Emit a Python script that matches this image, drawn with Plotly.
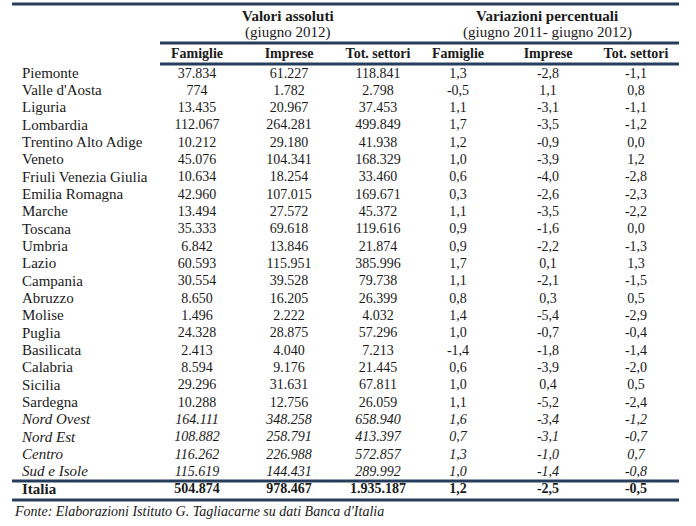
import plotly.graph_objects as go

#-------------------------------------------------------------------------------
# Dati della tabella (valori assoluti giugno 2012 e variazioni % 2011-2012)
regioni = ["Piemonte", "Valle d'Aosta", "Liguria", "Lombardia",
           "Trentino Alto Adige", "Veneto", "Friuli Venezia Giulia",
           "Emilia Romagna", "Marche", "Toscana", "Umbria", "Lazio",
           "Campania", "Abruzzo", "Molise", "Puglia", "Basilicata",
           "Calabria", "Sicilia", "Sardegna",
           "Nord Ovest", "Nord Est", "Centro", "Sud e Isole", "Italia"]

famiglie = [37834, 774, 13435, 112067, 10212, 45076, 10634, 42960, 13494,
            35333, 6842, 60593, 30554, 8650, 1496, 24328, 2413, 8594, 29296,
            10288, 164111, 108882, 116262, 115619, 504874]
imprese = [61227, 1782, 20967, 264281, 29180, 104341, 18254, 107015, 27572,
           69618, 13846, 115951, 39528, 16205, 2222, 28875, 4040, 9176, 31631,
           12756, 348258, 258791, 226988, 144431, 978467]
tot_settori = [118841, 2798, 37453, 499849, 41938, 168329, 33460, 169671,
               45372, 119616, 21874, 385996, 79738, 26399, 4032, 57296, 7213,
               21445, 67811, 26059, 658940, 413397, 572857, 289992, 1935187]

var_famiglie = [1.3, -0.5, 1.1, 1.7, 1.2, 1.0, 0.6, 0.3, 1.1, 0.9, 0.9, 1.7,
                1.1, 0.8, 1.4, 1.0, -1.4, 0.6, 1.0, 1.1, 1.6, 0.7, 1.3, 1.0,
                1.2]
var_imprese = [-2.8, 1.1, -3.1, -3.5, -0.9, -3.9, -4.0, -2.6, -3.5, -1.6,
               -2.2, 0.1, -2.1, 0.3, -5.4, -0.7, -1.8, -3.9, 0.4, -5.2, -3.4,
               -3.1, -1.0, -1.4, -2.5]
var_tot = [-1.1, 0.8, -1.1, -1.2, 0.0, 1.2, -2.8, -2.3, -2.2, 0.0, -1.3, 1.3,
           -1.5, 0.5, -2.9, -0.4, -1.4, -2.0, 0.5, -2.4, -1.2, -0.7, 0.7,
           -0.8, -0.5]

gruppi = [("Valori assoluti", "(giugno 2012)"),
          ("Variazioni percentuali", "(giugno 2011- giugno 2012)")]
intestazioni = ["Famiglie", "Imprese", "Tot. settori",
                "Famiglie", "Imprese", "Tot. settori"]
fonte = "Fonte: Elaborazioni Istituto G. Tagliacarne su dati Banca d'Italia"

#-------------------------------------------------------------------------------
# Formattazione all'italiana
def fmt_int(v):
    return f"{v:,}".replace(",", ".")

def fmt_pct(v):
    return f"{v:.1f}".replace(".", ",")

def stile(testi):
    out = []
    for i, t in enumerate(testi):
        if regioni[i] == "Italia":
            out.append("<b>" + t + "</b>")
        elif i >= 20:
            out.append("<i>" + t + "</i>")
        else:
            out.append(t)
    return out

colonne = [
    [fmt_int(v) for v in famiglie],
    [fmt_int(v) for v in imprese],
    [fmt_int(v) for v in tot_settori],
    [fmt_pct(v) for v in var_famiglie],
    [fmt_pct(v) for v in var_imprese],
    [fmt_pct(v) for v in var_tot],
]

#-------------------------------------------------------------------------------
# Geometria (unita' = pixel della pagina)
W, H = 696, 526
FONT = "Liberation Serif"
INK = "#1a1a1a"
NAVY = "#263d5c"
x_reg = 22
x_col = [197, 289, 378, 458, 548, 636]
y0, dy = 74, 17.33
y_righe = [y0 + i * dy for i in range(len(regioni))]
x_sx, x_dx, x_grp = 12, 679, 160

fig = go.Figure()

fig.add_trace(go.Scatter(
    x=[x_reg] * len(regioni), y=y_righe, mode="text",
    text=stile(regioni), textposition="middle right",
    textfont=dict(family=FONT, size=15, color=INK),
    hoverinfo="skip"))

for xc, col in zip(x_col, colonne):
    fig.add_trace(go.Scatter(
        x=[xc] * len(col), y=y_righe, mode="text",
        text=stile(col), textposition="middle center",
        textfont=dict(family=FONT, size=14, color=INK),
        hoverinfo="skip"))

# intestazioni di colonna
fig.add_trace(go.Scatter(
    x=x_col, y=[54] * len(x_col), mode="text",
    text=["<b>" + t + "</b>" for t in intestazioni],
    textposition="middle center",
    textfont=dict(family=FONT, size=14, color=INK),
    hoverinfo="skip"))

# intestazioni di gruppo
for xc, (t1, t2) in zip([(x_col[0] + x_col[2]) / 2, (x_col[3] + x_col[5]) / 2], gruppi):
    fig.add_annotation(x=xc, y=16, text="<b>" + t1 + "</b>",
                       showarrow=False, xref="x", yref="y",
                       font=dict(family=FONT, size=15, color=INK))
    fig.add_annotation(x=xc, y=32, text=t2,
                       showarrow=False, xref="x", yref="y",
                       font=dict(family=FONT, size=15, color=INK))

# fonte
fig.add_annotation(x=x_sx, y=511, text="<i>" + fonte + "</i>", showarrow=False,
                   xref="x", yref="y", xanchor="left",
                   font=dict(family=FONT, size=14, color=INK))

# filetti orizzontali
y_italia = y_righe[-1]
for (xa, ya) in [(x_sx, 4), (x_grp, 43), (x_grp, 64),
                 (x_sx, y_italia - 9), (x_sx, y_italia + 10)]:
    fig.add_shape(type="line", x0=xa, x1=x_dx, y0=ya, y1=ya,
                  xref="x", yref="y", line=dict(color=NAVY, width=3))

fig.update_layout(
    width=W, height=H,
    margin=dict(l=0, r=0, t=0, b=0),
    paper_bgcolor="white", plot_bgcolor="white",
    showlegend=False,
    xaxis=dict(range=[0, W], visible=False, fixedrange=True),
    yaxis=dict(range=[H, 0], visible=False, fixedrange=True),
)

# niente margine della pagina, cosi' la figura parte da (0,0)
fig.write_html("out.html", config={"displayModeBar": False},
               post_script="document.body.style.margin='0';")
